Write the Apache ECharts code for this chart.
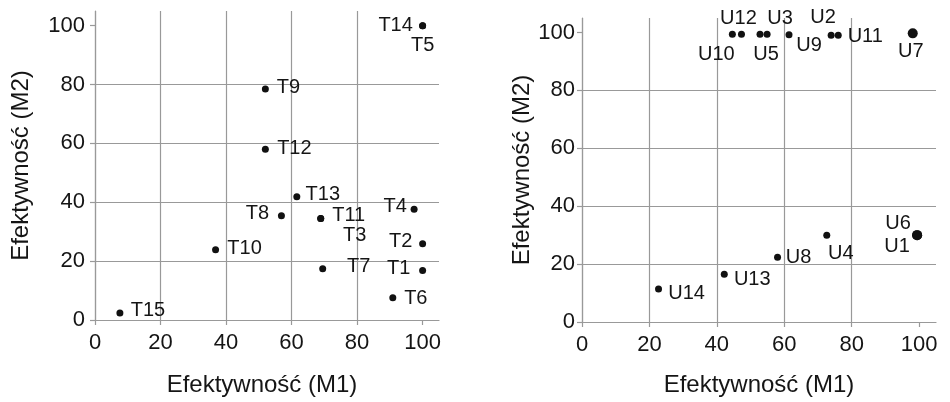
<!DOCTYPE html>
<html>
<head>
<meta charset="utf-8">
<script src="https://cdn.jsdelivr.net/npm/echarts@6/dist/echarts.min.js"></script>
<style>html,body{margin:0;padding:0;background:#fff}#c{width:950px;height:402px}</style>
</head>
<body>
<div id="c"></div>
<script>
// ---- data ----
var leftNames = ['T1','T2','T3','T4','T5','T6','T7','T8','T9','T10','T11','T12','T13','T14','T15'];
var leftM1 =    [100, 100, 68.9, 97.4, 100, 90.9, 69.5, 56.9, 52.0, 36.8, 68.9, 52.0, 61.6, 100, 7.6];
var leftM2 =    [16.8, 25.9, 34.5, 37.6, 100, 7.6, 17.4, 35.4, 78.5, 23.9, 34.5, 58.0, 41.9, 100, 2.4];

var rightNames = ['U1','U2','U3','U4','U5','U6','U7','U8','U9','U10','U11','U12','U13','U14'];
var rightM1 =    [99.4, 73.9, 54.9, 72.6, 52.8, 99.4, 98.1, 58.0, 61.4, 44.6, 76.0, 47.3, 42.2, 22.7];
var rightM2 =    [30.0, 99.0, 99.4, 30.0, 99.4, 30.0, 99.7, 22.4, 99.2, 99.4, 99.0, 99.4, 16.5, 11.4];

var tickValues = [0, 20, 40, 60, 80, 100];
var xTitle = 'Efektywność (M1)';
var yTitle = 'Efektywność (M2)';

// ---- label placement (layout only) ----
var leftLabelOffset = {
  T1:[-24,-2], T2:[-22,-2], T3:[34,17], T4:[-19,-3], T5:[0,20], T6:[23,1], T7:[36,-2],
  T8:[-24,-2], T9:[23,-2], T10:[29,-1], T11:[28,-3], T12:[29,-1], T13:[26,-2], T14:[-27,0], T15:[28,-2]
};
var rightLabelOffset = {
  U1:[-20,11], U2:[-8,-18], U3:[13,-16], U4:[14,18], U5:[6,20], U6:[-19,-12], U7:[-2,18],
  U8:[21,0], U9:[20,11], U10:[-16,20], U11:[27,1], U12:[-3,-16], U13:[28,5], U14:[28,4]
};
var bigDots = {U1:10, U6:10, U7:10};

var gridColor = '#999999';
var textColor = '#151515';
var font = 'Liberation Sans, Arial, sans-serif';

function buildPoints(names, xs, ys) {
  return names.map(function (n, i) {
    return { name: n, value: [xs[i], ys[i]], symbolSize: bigDots[n] || 7 };
  });
}

function xAxis(idx, nameGap, namePad) {
  return {
    type: 'value', gridIndex: idx, min: 0, max: 105, interval: 20,
    name: xTitle, nameLocation: 'middle', nameGap: nameGap,
    nameTextStyle: { fontSize: 24, color: textColor, fontFamily: font, padding: namePad },
    axisLine: { show: true, lineStyle: { color: gridColor, width: 1.2 } },
    axisTick: { show: true, length: 5, customValues: tickValues, lineStyle: { color: gridColor, width: 1.2 } },
    axisLabel: { customValues: tickValues, fontSize: 22, color: textColor, fontFamily: font, margin: 12 },
    splitLine: { show: true, showMaxLine: false, lineStyle: { color: gridColor, width: 1.2 } }
  };
}
function yAxis(idx, nameGap, labelMargin) {
  return {
    type: 'value', gridIndex: idx, min: 0, max: 105, interval: 20,
    name: yTitle, nameLocation: 'middle', nameGap: nameGap, nameRotate: 90,
    nameTextStyle: { fontSize: 24, color: textColor, fontFamily: font },
    axisLine: { show: true, lineStyle: { color: gridColor, width: 1.2 } },
    axisTick: { show: true, length: 5, customValues: tickValues, lineStyle: { color: gridColor, width: 1.2 } },
    axisLabel: { customValues: tickValues, fontSize: 22, color: textColor, fontFamily: font, margin: labelMargin },
    splitLine: { show: true, showMaxLine: false, lineStyle: { color: gridColor, width: 1.2 } }
  };
}

function scatter(idx, names, data, offsets) {
  return {
    type: 'scatter', xAxisIndex: idx, yAxisIndex: idx, data: data,
    itemStyle: { color: '#111111', opacity: 1 },
    label: {
      show: true, position: 'inside', formatter: '{b}',
      fontSize: 20, color: textColor, fontFamily: font,
      align: 'center', verticalAlign: 'middle'
    },
    labelLayout: function (params) {
      var o = offsets[names[params.dataIndex]] || [0, 0];
      return { dx: o[0], dy: o[1], hideOverlap: false };
    },
    emphasis: { disabled: true },
    silent: true, animation: false
  };
}

var chart = echarts.init(document.getElementById('c'), null, { renderer: 'canvas' });
chart.setOption({
  backgroundColor: '#fff',
  animation: false,
  grid: [
    { left: 95, top: 11, width: 344, height: 313 },
    { left: 582, top: 18, width: 354, height: 305 }
  ],
  xAxis: [xAxis(0, 53, [0, 10, 0, 0]), xAxis(1, 51, 0)],
  yAxis: [yAxis(0, 62, 10), yAxis(1, 47, 7)],
  series: [
    scatter(0, leftNames, buildPoints(leftNames, leftM1, leftM2), leftLabelOffset),
    scatter(1, rightNames, buildPoints(rightNames, rightM1, rightM2), rightLabelOffset)
  ]
});
</script>
</body>
</html>
